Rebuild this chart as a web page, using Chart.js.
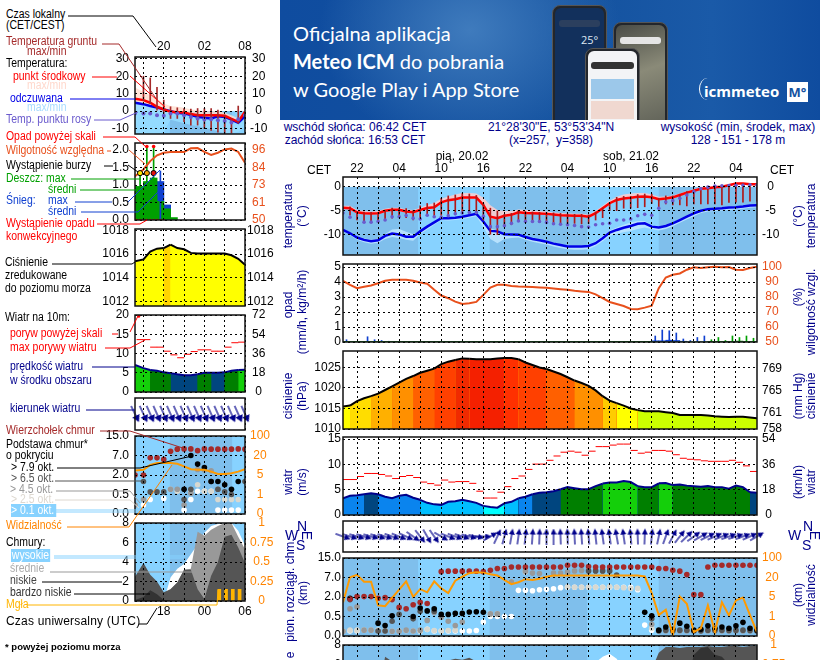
<!DOCTYPE html>
<html lang="pl">
<head>
<meta charset="utf-8">
<title>Meteorogram ICM</title>
<script src="https://cdn.jsdelivr.net/npm/chart.js@4"></script>
<style>
    html, body { margin: 0; padding: 0; width: 820px; height: 660px; overflow: hidden; background: #fff; }
    #page { position: relative; width: 820px; height: 660px; overflow: hidden; font-family: "Liberation Sans", Arial, sans-serif; font-size: 12px; }
    #page canvas { position: absolute; }
    .txt { position: absolute; white-space: pre; line-height: 13px; }
    .vert { position: absolute; white-space: pre; line-height: 13px; color: #00008b; transform: translate(-50%, -50%) rotate(-90deg); }
    .band { position: absolute; }
    #banner { position: absolute; left: 280px; top: 0; width: 540px; height: 120px; overflow: hidden;
        background: radial-gradient(ellipse 150px 120px at 190px 30px, #3f7bbd 0%, rgba(63,123,189,0) 100%), linear-gradient(90deg, #0f4c9f 0%, #14529f 55%, #1a5aa8 80%, #0f4c9f 100%); color: #fff; font-family: Lato, "Open Sans", sans-serif; font-size: 20px; }
    #banner .line { position: absolute; left: 13px; white-space: pre; }
    .phone { position: absolute; border-radius: 8px; background: #23262b; border: 1px solid #555; box-sizing: border-box; }
    .screen { position: absolute; left: 2px; right: 2px; top: 2px; bottom: 0; border-radius: 6px; }
    #leaders { position: absolute; left: 0; top: 0; }
</style>
</head>
<body>
<div id="page">
    <div id="banner">
        <div class="line" style="top:21px">Oficjalna aplikacja</div>
        <div class="line" style="top:49px"><b>Meteo ICM</b> do pobrania</div>
        <div class="line" style="top:77px">w Google Play i App Store</div>
        <div class="phone" style="left:272px;top:5px;width:55px;height:125px"><div class="screen" style="background:#12305c"><div style="position:absolute;left:26px;top:24px;color:#dfe8f5;font:11px 'Open Sans',sans-serif">25°</div><div style="position:absolute;left:4px;right:4px;top:12px;height:7px;border-radius:3px;background:#2b3f5e"></div></div></div>
        <div class="phone" style="left:333px;top:22px;width:55px;height:110px"><div class="screen" style="background:linear-gradient(160deg,#4a4c46 0%,#8a8a78 45%,#5c5e55 100%)"><div style="position:absolute;left:4px;right:4px;top:12px;height:7px;border-radius:3px;background:#e5e5e5"></div></div></div>
        <div class="phone" style="left:305px;top:48px;width:55px;height:90px"><div class="screen" style="background:#f3f4f6"><div style="position:absolute;left:3px;right:3px;top:11px;height:7px;border-radius:3px;background:#333"></div><div style="position:absolute;left:3px;right:3px;top:28px;height:20px;background:#9cc8ea"></div><div style="position:absolute;left:3px;right:3px;top:50px;height:18px;background:#f0d8d0"></div></div></div>
        <div style="position:absolute;left:419px;top:78px;width:16px;height:22px;border-left:1.5px solid #fff;border-radius:50%"></div>
        <div class="line" style="left:424px;top:81px;font:bold 15px 'Open Sans',sans-serif">icmmeteo</div>
        <div class="line" style="left:507px;top:82px;width:21px;height:20px;background:#fff;color:#14529f;font:bold 13px 'Open Sans',sans-serif;text-align:center;line-height:20px">M°</div>
    </div>
</div>

<script>
// ── Time axes ──
const hoursR = [0,1,2,3,4,5,6,7,8,9,10,11,12,13,14,15,16,17,18,19,20,21,22,23,24,25,26,27,28,29,30,31,32,33,34,35,36,37,38,39,40,41,42,43,44,45,46,47,48,49,50,51,52,53,54,55,56,57,58,59];
const hoursL = [-0.25,1,2,3,4,5,6,7,8,9,10,11,12,13,14,15,16];
const tickHoursR = [2,5,8,11,14,17,20,23,26,29,32,35,38,41,44,47,50,53,56];
const tickLabelsR = ['22','','04','','10','','16','','22','','04','','10','','16','','22','','04'];
const tickHoursL = [1,4,7,10,13,16];
const tickLabelsLocal = ['','20','','02','','08'];
const tickLabelsUtc = ['','18','','00','','06'];
const nightR = [[0,10.7],[20.9,34.8],[45,58.9]];
const nightL = [[4.9,14.1]];

// ── Temperature, long forecast ──
const tempR = [-4.4,-4.5,-5.35,-5.55,-5.6,-5.55,-5.05,-4.85,-4.85,-5.2,-5.35,-4.85,-4.45,-4.3,-3.25,-2.8,-2.6,-2.25,-2.25,-2.25,-3.8,-6.3,-6.6,-6.1,-5.9,-5.35,-5.5,-5.55,-5.6,-5.7,-5.85,-6,-6.05,-6.1,-6.1,-6.3,-5.55,-4.5,-3.45,-2.75,-2.45,-2.3,-2.1,-2.05,-2.2,-2.6,-2.45,-2.2,-1.7,-1.2,-0.8,-0.4,-0.3,-0.05,0.05,0.35,0.7,0.7,0.55,0.55];
const tempMaxR = [-4,-4,-4.9,-5.1,-5.2,-5.1,-4.6,-4.4,-4.4,-4.8,-4.9,-4.4,-3.8,-3.4,-2.5,-2,-1.6,-1.3,-1.3,-1.4,-2.3,-3.9,-4.9,-5.1,-5.1,-4.8,-4.9,-5,-5.1,-5.2,-5.4,-5.5,-5.6,-5.7,-5.7,-5.9,-5.1,-4,-2.9,-2.1,-1.6,-1.4,-1.3,-1.3,-1.6,-2.1,-2,-1.8,-1.4,-0.9,-0.5,-0.1,0,0.2,0.3,0.6,0.9,0.9,0.8,0.8];
const tempMinR = [-4.7,-4.8,-5.6,-5.8,-5.9,-5.8,-5.3,-5.1,-5.1,-5.5,-5.6,-5.1,-4.7,-4.5,-3.5,-3.1,-2.8,-2.5,-2.5,-2.5,-4.1,-6.6,-6.9,-6.4,-6.2,-5.6,-5.7,-5.8,-5.8,-5.9,-6.1,-6.2,-6.3,-6.3,-6.3,-6.5,-5.8,-4.7,-3.7,-3,-2.7,-2.5,-2.3,-2.3,-2.4,-2.8,-2.7,-2.4,-1.9,-1.4,-1,-0.6,-0.5,-0.2,-0.1,0.2,0.5,0.5,0.4,0.4];
const feelR = [-9.1,-9.8,-10.7,-11.2,-11.5,-11.3,-10.35,-9.85,-10.05,-10.55,-10.55,-9.4,-8.4,-7.5,-6.6,-6.6,-6.5,-6.3,-6,-5.7,-7.3,-9.3,-9.4,-10,-10.05,-10.1,-10.6,-11,-11.3,-11.6,-12,-12.3,-12.6,-12.6,-12.6,-12.5,-11.9,-10.85,-9.65,-9.1,-8.65,-8.25,-7.8,-7.7,-8.4,-8.6,-8.25,-7.7,-7,-6.3,-5.6,-5.05,-4.7,-4.6,-4.5,-4.35,-4.3,-4.15,-3.95,-3.9];
const feelMaxR = [-9,-9.6,-10.4,-10.9,-11.2,-11,-10,-9,-8.9,-9.5,-10,-9.2,-8.2,-7.3,-6.5,-6.4,-6.3,-6.1,-5.8,-5.5,-6.8,-8.8,-9.2,-9.8,-9.9,-10,-10.4,-10.8,-11.1,-11.4,-11.8,-12.1,-12.4,-12.4,-12.4,-12.3,-11.5,-10.4,-9.2,-8.6,-8,-7.5,-7.2,-7.2,-8.1,-8.3,-8,-7.5,-6.8,-6.1,-5.4,-4.9,-4.5,-4.4,-4.3,-4.2,-4.1,-4,-3.8,-3.7];
const feelMinR = [-9.4,-10.2,-11.2,-11.7,-12,-11.8,-11,-10.6,-10.8,-11.2,-11.4,-10,-9,-8,-7,-7.1,-7,-6.8,-6.5,-6.2,-8.5,-11,-11.9,-11,-10.8,-10.7,-11.2,-11.6,-11.9,-12.2,-12.6,-12.9,-13.2,-13.3,-13.3,-13.2,-12.5,-11.5,-10.4,-9.9,-9.6,-9.3,-8.9,-8.6,-8.9,-9.2,-8.9,-8.3,-7.6,-6.9,-6.2,-5.5,-5.2,-5.1,-5,-4.9,-4.8,-4.6,-4.4,-4.3];
const dewR = [-5.5,-6.4,null,-7.45,-7.45,-7.3,-7,-6.3,-6.3,-6.05,-6.6,-6.8,-6,-6.3,-6.4,-6.1,-5.7,-5.5,-5.4,-5.4,-6.2,-8.4,-8.4,-8.2,-7.7,-7.2,-7.3,-7.3,-7.3,-7.5,-7.8,-7.9,-8,-8.15,-8.4,-8.5,-8,-7.8,-7.7,-7,-7,-6.8,-6.1,-5.8,-6,-4.5,-3.2,-2.9,-2.4,-1.7,-1,-0.4,-0.05,0.2,0.25,0.3,0.35,0.35,0.45,0.4];
const groundMaxR = [null,-4.2,-5.2,-5.3,-5.4,-5.4,-5,-4.5,-4.5,-4.6,-5,-4,-3.5,-3.4,-2.4,-1.9,-1.7,-1.4,-1.5,-1.8,-3.5,-4.5,-5.1,-5.8,-5.6,-5,-5.2,-5.3,-5.4,-5.4,-5.5,-5.6,-5.7,-5.8,-5.8,-5.9,-5.3,-4.5,-3.5,-2.2,-2,-2,-1.6,-1.5,-1.5,-2.4,-1.9,-1.9,-1.6,-1,-0.6,-0.3,-0.2,0,0.2,0.3,0.5,0.7,0.5,0.3];
const groundMinR = [null,-6,-7,-7.2,-7.4,-7.2,-7,-6.6,-6.4,-6.5,-7,-6.5,-6,-6.3,-6,-6,-5.8,-5.5,-5.5,-5.5,-7,-10,-10.1,-8,-8,-7.3,-7.3,-7.4,-7.5,-7.5,-7.6,-7.6,-7.7,-7.7,-7.8,-7.8,-7,-6.5,-5,-5,-4.5,-4.5,-4.4,-4.2,-3.5,-4.5,-3.6,-3.8,-3.8,-4,-3.6,-3.6,-3.6,-3.6,-3.8,-3.3,-3.2,-3.2,-3,-3];

// ── Precipitation and humidity, long forecast ──
const humidityR = [90.8,88.1,85.9,86.8,87.7,89.2,90.8,91.5,91.5,91.5,90.8,89.7,88.8,84.8,81,79.2,76.9,75.3,75.8,76.7,81.4,86.3,88.1,88.1,87.4,87,86.8,86.6,86.3,86.1,85.7,85.2,84.8,84.1,83.7,83.4,81.8,79.2,76.7,75.3,74,72,71.8,72.9,74.2,85.9,93,94.8,95.7,98.2,99.8,99.3,99.8,100.2,99.8,100,98.2,98,99.3,100.2];
const snowMaxR = [0.15,0,0.03,0.35,0.15,0.1,0.05,0,0,0,0,0,0,0,0,0,0,0,0,0,0,0,0,0,0,0,0,0,0,0,0,0,0,0,0,0,0,0,0,0,0,0,0,0,0.4,0.8,0.75,0.6,0.2,0.1,0.3,0.4,0,0,0,0,0,0,0];
const rainMaxR = [0,0,0,0,0,0,0,0,0,0,0,0,0,0,0,0,0,0,0,0,0,0,0,0,0,0,0,0,0,0,0,0,0,0,0,0,0,0,0,0,0,0,0,0,0,0,0,0,0,0,0,0,0.15,0.3,0.1,0.4,0.3,0.4,0.25];
const snowMeanR = [0,0,0,0,0,0,0,0,0,0,0,0,0,0,0,0,0,0,0,0,0,0,0,0,0,0,0,0,0,0,0,0,0,0,0,0,0,0,0,0,0,0,0,0,0.08,0.08,0.12,0.1,0.05,0,0,0,0,0,0,0,0,0,0];
const rainMeanR = [0.02,0.02,0.02,0.02,0.02,0.02,0.02,0.02,0.02,0.02,0.02,0.02,0.02,0.02,0.02,0.02,0.02,0.02,0.02,0.02,0.02,0.02,0.02,0.02,0.02,0.02,0.02,0.02,0.02,0.02,0.02,0.02,0.02,0.02,0.02,0.02,0.02,0.02,0.02,0.02,0.02,0.02,0.02,0.02,0,0,0,0,0,0,0,0,0.01,0.02,0.02,0.04,0.06,0.04,0.02];

// ── Pressure, long forecast ──
const pressureR = [1015.5,1015.7,1016.8,1017.5,1018,1018.6,1019.5,1020.4,1021.3,1022.2,1022.9,1023.7,1024.2,1024.7,1025.8,1026.4,1026.8,1027.2,1027.1,1027,1027,1027,1027.2,1027.3,1027.3,1027,1026.2,1025.6,1025,1024.6,1024,1023.4,1022.6,1021.8,1021.2,1020.5,1019.4,1018,1016.9,1016.3,1015.7,1015,1014.6,1014.3,1014.3,1014.3,1014.1,1013.9,1013.4,1013.4,1013.4,1013.4,1013.3,1013.1,1013,1012.9,1013,1013,1012.8,1012.6];
const pressureColorsR = ['#ffff00','#ffdd00','#ffdd00','#ffdd00','#ffb000','#ffb000','#ffb000','#ff9000','#ff9000','#ff9000','#ff6000','#ff6000','#ff6000','#ff4000','#ff4000','#ff4000','#f02a00','#f02a00','#f42000','#f42000','#f42000','#f42000','#f42000','#ff3000','#ff3000','#ff4000','#ff4000','#ff4000','#ff4000','#ff6000','#ff6000','#ff6000','#ff6000','#ff9000','#ff9000','#ff9000','#ff9000','#ffcc00','#ffcc00','#ffff00','#ffff00','#ffff00','#ccff00','#ccff00','#ccff00','#ccff00','#ccff00','#ccff00','#ccff00','#ccff00','#ccff00','#ccff00','#ccff00','#ccff00','#ccff00','#ccff00','#ccff00','#ccff00','#ccff00','#ccff00'];

// ── Wind, long forecast ──
const windR = [3.3,3.8,3.9,4.1,4.3,4.1,3.6,3.3,3.8,4,3.4,3,2.4,2.1,2,2.6,2.7,3,2.7,2.4,1.8,1.6,1.45,2.3,2.6,3.3,3.6,4.1,4.4,4.5,4.7,5.1,5.5,5.3,5.1,5.1,5.7,6.2,6.4,6.4,6.7,6.5,5.7,5.5,5.5,6.25,6.3,5.9,6,5.8,5.7,5.6,5.7,5.5,5.5,5.2,5.8,5.5,4.5,4.4];
const windColorsR = ['#0a84ee','#0a84ee','#0a84ee','#00457f','#00457f','#0a84ee','#0a84ee','#0a84ee','#0a84ee','#0a84ee','#0a84ee','#00bfff','#00bfff','#00bfff','#00bfff','#00bfff','#00bfff','#00bfff','#00bfff','#00bfff','#00ffff','#00ffff','#00ffff','#00bfff','#00bfff','#0a84ee','#0a84ee','#00457f','#00457f','#00457f','#00457f','#007f00','#007f00','#007f00','#007f00','#007f00','#007f00','#14cf0a','#14cf0a','#14cf0a','#14cf0a','#14cf0a','#007f00','#007f00','#007f00','#14cf0a','#14cf0a','#007f00','#007f00','#007f00','#007f00','#007f00','#007f00','#007f00','#007f00','#007f00','#007f00','#007f00','#00457f','#00457f'];
const gustHoursR = [0.5,1.5,2.5,3.5,4.5,5.5,6.5,7.5,8.5,9.5,10.5,11.5,12.5,13.5,14.5,15.5,16.5,17.5,18.5,19.5,20.5,21.5,22.5,23.5,24.5,25.5,26.5,27.5,28.5,29.5,30.5,31.5,32.5,33.5,34.5,35.5,36.5,37.5,38.5,39.5,40.5,41.5,42.5,43.5,44.5,45.5,46.5,47.5,48.5,49.5,50.5,51.5,52.5,53.5,54.5,55.5,56.5,57.5,58.5];
const gustR = [7,7,7.6,8.2,8.2,8,7.7,7.2,7.6,7.8,7.4,6.5,6.2,5.9,6.9,6.5,6.6,6.6,6.25,4.7,3.35,3.35,4.5,5.6,7.2,7.7,9,10.05,10.05,10.8,11.65,12.4,12.6,12.4,11.8,12.6,13.5,13.5,13.8,14,14,12.75,12.2,12.4,12.75,12.75,12.6,11.9,11.2,11,10.9,10.7,10.6,10.6,10.6,10.8,10.4,9.7,8.6];
const windFromR = [290,288,287,287,286,287,288,290,292,295,305,322,330,325,300,292,290,288,285,282,270,240,205,195,190,188,186,184,182,180,180,178,178,177,176,175,174,172,172,170,172,175,178,182,186,192,200,208,218,226,234,240,244,246,248,250,252,250,246,240];

// ── Cloud base and tops, visibility, long forecast (km) ──
const heightScale = [0, 0.5, 2, 7, 15];
const visibilityScale = [0, 1, 5, 20, 100];
const heightTickLabels = ['0.0', '0.5', '2.0', '7.0', '15.0'];
const visibilityTickLabels = ['0', '1', '5', '20', '100'];
const cloudTopsR = [null,1.85,2.1,2.1,2.1,1.9,1.95,1.8,1.2,1.1,1.4,1.6,1.5,null,9.4,9.6,9.6,9.6,9.6,9.6,9.4,10,10.7,10.7,11.3,11.3,11.3,11.3,11.3,11.3,11.3,11.3,12,12,12,11.5,11.3,11.3,11.3,11.3,11.3,11.3,11.3,11.3,11.3,10.7,10.7,10,9.6,8.2,2.6,2.6,11.3,12,12,12,12,12,12,12];
const base79R = [null,1.9,null,null,null,0.33,0.27,0.55,null,null,0.5,1.15,0.93,1.1,0.66,0.66,0.74,0.74,0.85,0.87,0.82,null,null,null,null,null,null,null,null,null,null,null,null,null,null,null,null,null,null,null,null,null,null,0.82,0.55,0.15,0.23,0.17,0.33,0.25,0.15,0.17,0.26,0.2,0.23,0.2,0.26,0.35,0.2,0.15];
const base65R = [null,1.8,null,null,null,0.13,0.13,0.38,0.66,null,0.44,0.9,null,0.9,null,null,null,null,null,null,null,null,null,null,null,null,null,null,null,null,null,null,null,null,null,9.7,9.7,9.7,9.7,8,null,null,null,null,0.44,0.13,0.15,0.13,0.15,0.15,0.13,0.13,0.15,0.15,0.15,0.14,0.15,0.15,0.14,0.13];
const base45R = [0.12,1.1,1.25,0.15,0.15,0.13,0.13,0.12,0.12,0.15,0.13,0.15,0.4,0.8,0.48,0.38,0.27,0.36,null,null,null,0.7,0.7,null,5.9,null,9.5,8.8,8.6,null,8.8,8.8,9.2,9.7,9.9,9.7,9.7,9.7,9.7,null,null,null,null,null,0.3,0.13,0.13,0.13,0.13,0.13,0.13,0.13,0.13,0.13,0.13,0.13,0.13,0.13,0.13,0.13];
const base25R = [0.12,0.15,0.15,0.15,0.15,0.15,0.14,0.12,0.13,0.14,0.13,0.12,0.17,0.14,0.13,0.14,0.15,null,null,null,null,0.7,0.7,null,5.9,null,9.3,null,null,null,null,null,4.6,4.5,4.5,4.5,4.5,4.5,4.6,4.5,4.4,4.2,4.2,null,0.2,null,null,null,null,null,null,null,null,null,null,null,null,null,null,null];
const base01R = [null,0.13,0.13,null,null,null,null,null,null,null,null,0.14,0.17,0.13,0.13,0.13,0.13,0.13,0.13,0.14,0.36,0.5,0.5,0.5,0.5,3.7,3.7,3.6,3.85,4,4.1,4.4,4.5,4.5,4.5,4.5,4.5,4.5,4.5,4.5,4.5,4.5,3.85,0.28,0.15,null,null,null,null,null,null,null,null,null,null,null,null,null,null,null];
const visibilityR = [3.9,20.8,30.8,16.7,16.7,3.3,3.1,4.8,10.6,17,5,11,8.6,17,11.6,8,17.5,24,37.6,41.7,40,33,28,18.2,14.9,16.4,18.7,18,19,22.7,28,28,28,28,28,28,28,28,28,28,28,28,28,24,8,1.3,2.4,0.05,5.3,3.6,0.2,0.4,3.3,0.2,3.9,1.2,4.3,4.9,1.3,0.2];

// ── Cloud cover, long forecast ──
const cloudHighR = [0,0,0,0,0,0,0,0,0,0,0,0,0,0,0,0,0,0,0,0,0,0,0,0,0,0,0,0,0,0,0,2,3,3,4,5,6.2,6.8,7.1,6.6,5.5,4,3,2,2,3,4,5,6,6,6,6,6,6,6,6,6,6,6,6];
const cloudMidR = [0,0,0,0,0,0,0,0,0,0,0,0,0,0,0,0,0,0,0,0,0,0,0,0,0,0,0,0,0,0,0,0,0,0,0,0,0,0,0,0,0,0,0,0,3,5,6,6,6,6,6,6,6,6,6,6,6,6,6,6];
const cloudLowR = [0,0,1,2,3,3,6.8,6.3,4,3,2,2,3,4,5,6.4,6.6,6.5,6.7,6.3,5,4,3,2,1,0,0,0,0,0,0,0,0,0,0,0,0,0,0,0,0,1,2,3,5.5,7.2,7.8,7.8,7.7,7.8,7.8,7.8,7.9,7.8,7.8,7.9,7.9,7.8,7.9,7.9];
const cloudVeryLowR = [0,0,0,0,0,0,0,0,0,0,0,0,0,0,0,0,0,0,0,0,0,0,0,0,0,0,0,0,0,0,0,0,0,0,0,0,0,0,0,0,0,0,0,0,0,0,0,2,3,4,7,7.7,7.8,7,6.8,6,5,5,5,5];
const fogHoursR = [49];
const fogR = [0.15];

// ── Short forecast (left column) ──
const tempL = [7.1,6.3,4.8,2.5,1,-0.4,-0.6,-0.8,-1.7,-2.3,-2.3,-2.3,-2.3,-2.7,-4.4,-6.1,-0.4];
const tempMaxL = [13.6,11,9.2,6.9,4.4,2.9,2.5,1.9,1,0.6,0,0,0.2,-0.9,-2.3,-4.2,0.6];
const tempMinL = [5.5,4.5,3,1.2,-0.2,-1.2,-1.4,-1.6,-2.4,-2.9,-3,-3,-3,-3.4,-5,-6.8,-1.2];
const feelL = [4.8,4,2.9,2.1,1,0,-1,-1.3,-2.3,-3.3,-3.8,-4.2,-2.9,-3.3,-4.8,-6.7,-2.9];
const feelMaxL = [5.5,4.6,3.5,2.6,1.5,0.5,-0.5,-0.8,-1.8,-2.8,-3.3,-3.7,-2.5,-2.9,-4.4,-6.2,-2.5];
const feelMinL = [-13,-13,-13,-13,-12,-5,-6,-7,-8,-8.5,-9.5,-10.5,-11.5,-12.5,-12.5,-12,-9];
const dewL = [-1.3,-1.3,-1.3,-2.3,-2.7,-1.3,-1.3,-2.3,-3.3,-4.2,-4.8,-4.6,-5.2,-5.6,-6.5,-4.6,-2.3];
const groundMaxL = [null,20,19,13.7,6.3,2.5,1.9,1.5,1.2,1.5,1.5,1.5,0.6,-2.3,-4.2,2.9,null];
const groundMinL = [null,6,4.4,0.6,-1.3,-4.2,-4.2,-6.1,-8,-8,-10,-11,-12,-13,-12.5,-7,null];

const humidityL = [78.8,83.2,88.7,92.5,94.2,94.7,94.7,94.7,97.1,97.3,94.7,92.7,94.2,96.4,96.9,94.7,87.6];
const precipHoursL = [-0.5,0.5,1.5,2.5,3.5,4.5,5.5];
const rainMeanL = [0.96,0.96,1.1,1.2,0.53,0.32,0.07];
const snowMeanL = [0,0,0,0,1.1,0.43,0];
const spikeHoursL = [0.5,1.5,2.5,3.5];
const rainMaxL = [1.35,2.1,2.1,0];
const snowMaxL = [0,0,0,1.4];
const overScaleHoursL = [1.5,2.5];
const overScaleL = [2.1,2.1];
const stormHoursL = [0.5,1.5,2.5];
const stormL = [1.34,1.34,1.34];
const stormColorsL = ['#ffe600','#f5a000','#e01010'];
const convectiveHoursL = [0,0.5,1,1.5,2,2.5,3,3.5,4];
const convectiveL = [0.01,0.01,0.01,0.01,0.01,0.01,0.01,0.01,0.01];

const pressureL = [1015.4,1015.55,1016.2,1016.45,1016.5,1016.8,1016.5,1016.4,1016.1,1016.05,1016.05,1016.05,1016.05,1016.05,1015.9,1015.6,1015.1];
const pressureColorsL = ['#ffff00','#ffff00','#ffff00','#ffff00','#ffd400','#ffff00','#ffff00','#ffff00','#ffff00','#ffff00','#ffff00','#ffff00','#ffff00','#ffff00','#ffff00','#ffff00','#ffff00'];

const windL = [7,6.2,5.7,5.5,5.1,4.9,4.6,4.35,4.35,4.6,5,5,5,5.1,5.5,5.7,5.8];
const windColorsL = ['#14cf0a','#14cf0a','#007f00','#007f00','#007f00','#00457f','#00457f','#00457f','#00457f','#007f00','#007f00','#00457f','#00457f','#007f00','#007f00','#14cf0a','#14cf0a'];
const gustHoursL = [0.5,1.5,2.5,3.5,4.5,5.5,6.5,7.5,8.5,9.5,10.5,11.5,12.5,13.5,14.5,15.5];
const gustL = [13.6,13.6,11.65,11.65,10.6,9.65,8.9,9.8,10.5,10.95,10.95,10.6,10.6,11.65,12.8,12.95];
const overGustHoursL = [0.3];
const overGustL = [19.7];
const windFromL = [334,335,336,336,336,336,336,336,336,336,336,336,336,336,336,336,336];

const cloudTopsL = [2,2,6.4,6.4,6,8.7,9.6,9.7,9.7,9,9.7,9.6,9.6,9.6,9.6,9.7,9.6];
const base79L = [null,null,null,null,null,null,null,0.9,7,4.8,3.9,1.5,1.5,1.25,0.9,1.5,null];
const base65L = [null,1.5,0.7,0.7,0.7,null,null,0.37,0.9,null,null,1.5,0.9,0.7,0.5,null,1.5];
const base45L = [0.23,0.37,null,null,null,0.9,0.9,0.23,0.6,3.4,3.3,3.1,0.9,null,null,null,null];
const base25L = [null,null,null,null,null,0.9,0.75,null,0.75,1.25,0.75,0.75,0.37,0.37,0.37,0.37,null];
const base01L = [null,0.23,0.37,null,0.4,null,null,0.1,0.37,0.75,0.75,0.75,0.1,0.1,0.1,0.1,null];
const visibilityL = [8.4,9,12.8,14.2,14.2,14.2,13.6,11.6,9.5,9,9,7.6,5.8,5.8,6.3,7.6,9.5];

const cloudHighL = [0,0,0,0,0,2.4,3.3,3.8,4.8,5.8,7,7.7,7.9,8,8,7.2,5.7];
const cloudMidL = [0,0,0,0,0.8,1.2,1.9,3.2,3.3,7.1,6.7,7.3,7.7,8,8,6.6,5.3];
const cloudLowL = [2.5,3.9,2.7,2,0.9,1.2,1.9,3.2,3.2,1.2,0.2,2.6,4,6.6,6.8,5.5,3.9];
const cloudVeryLowL = [0.1,0.4,1.1,0.7,0.1,0,0,0,0,0,0,0,0,0,0,0,0];
const fogHoursL = [12.2,13.2,14.2,15.2];
const fogL = [0.15,0.15,0.15,0.15];

// ── Shared look ──
const NAVY = '#00008b';
const ORANGE = '#ff8400';
const HUMIDITY = '#e8501c';
const SKY = '#87d2ff';
const SKY_NIGHT = '#7fbfec';
const FONT = { family: '"Liberation Sans", Arial, sans-serif', size: 12 };
const PAD = 16;

const COLUMNS = {
    right: { x0: 343, x1: 757, axisL: 60, axisR: 54, xMin: 0, xMax: 59, tickHours: tickHoursR, night: nightR },
    left: { x0: 135, x1: 245, axisL: 45, axisR: 35, xMin: -0.25, xMax: 16, tickHours: tickHoursL, night: nightL },
};

const page = document.getElementById('page');

// Background sky and the frame around each panel
Chart.register({
    id: 'panelFrame',
    beforeDatasetsDraw(chart, args, opts) {
        if (opts.skyTop === undefined) return;
        const { ctx, chartArea: a, scales } = chart;
        const top = opts.skyTop === null ? a.top : scales.y.getPixelForValue(opts.skyTop);
        ctx.save();
        ctx.fillStyle = SKY;
        ctx.fillRect(a.left, top, a.right - a.left, a.bottom - top);
        ctx.fillStyle = SKY_NIGHT;
        opts.night.forEach(([from, to]) => {
            const x0 = scales.x.getPixelForValue(from);
            const x1 = scales.x.getPixelForValue(to);
            ctx.fillRect(x0, top, x1 - x0, a.bottom - top);
        });
        ctx.restore();
    },
    afterDraw(chart) {
        const { ctx, chartArea: a } = chart;
        ctx.save();
        ctx.strokeStyle = '#111';
        ctx.lineWidth = 1.5;
        ctx.strokeRect(a.left, a.top, a.right - a.left, a.bottom - a.top);
        ctx.restore();
    },
});

function fixedTicks(values) {
    return (scale) => { scale.ticks = values.map((value) => ({ value })); };
}

function pts(xs, ys) {
    return xs.map((x, i) => ({ x, y: ys[i] }));
}

// Piecewise position on the non-linear cloud axis
function axisPos(value, stops) {
    if (value === null) return null;
    for (let i = 1; i < stops.length; i++) {
        if (value <= stops[i]) return i - 1 + (value - stops[i - 1]) / (stops[i] - stops[i - 1]);
    }
    return stops.length - 1;
}

function addPanel(col, top, bottom, cfg) {
    const c = COLUMNS[col];
    const xPos = cfg.xLabels ? cfg.xPos : null;
    const xSpace = cfg.xLabels ? cfg.xSpace : 0;
    const padTop = xPos === 'top' ? 0 : PAD;
    const padBottom = xPos === 'bottom' ? 0 : PAD;

    const canvas = document.createElement('canvas');
    const above = xPos === 'top' ? xSpace : padTop;
    canvas.width = c.axisL + (c.x1 - c.x0) + c.axisR;
    canvas.height = above + (bottom - top) + (xPos === 'bottom' ? xSpace : padBottom);
    canvas.style.left = (c.x0 - c.axisL) + 'px';
    canvas.style.top = (top - above) + 'px';
    page.appendChild(canvas);

    const yTicks = cfg.yTicks || [];
    const rTicks = cfg.rTicks || [];

    new Chart(canvas, {
        type: 'line',
        data: { datasets: cfg.datasets },
        options: {
            responsive: false,
            animation: false,
            events: [],
            layout: { autoPadding: false, padding: { top: padTop, bottom: padBottom, left: 0, right: 0 } },
            elements: { point: { radius: 0 }, line: { tension: 0 } },
            plugins: {
                legend: { display: false },
                tooltip: { enabled: false },
                panelFrame: { skyTop: cfg.skyTop, night: c.night },
            },
            scales: {
                x: {
                    type: 'linear',
                    position: xPos || 'bottom',
                    min: c.xMin,
                    max: c.xMax,
                    offset: false,
                    grid: { color: '#000', lineWidth: 1, z: 1, drawTicks: false, offset: false },
                    border: { display: false, dash: [2, 3] },
                    afterBuildTicks: fixedTicks(c.tickHours),
                    afterFit: (s) => { s.height = xSpace; },
                    ticks: {
                        display: !!cfg.xLabels,
                        autoSkip: false,
                        maxRotation: 0,
                        padding: cfg.xPadding || 1,
                        color: '#000',
                        font: FONT,
                        callback: (v, i) => (cfg.xLabels ? cfg.xLabels[i] : ''),
                    },
                },
                y: {
                    min: cfg.yMin,
                    max: cfg.yMax,
                    grid: { color: '#000', lineWidth: 1, z: 1, drawTicks: false },
                    border: { display: false, dash: [2, 3] },
                    afterBuildTicks: fixedTicks(yTicks),
                    afterFit: (s) => { s.width = c.axisL; },
                    ticks: {
                        autoSkip: false,
                        padding: cfg.yPadding === undefined ? 2 : cfg.yPadding,
                        color: '#000',
                        font: FONT,
                        callback: (v, i) => (cfg.yLabels ? cfg.yLabels[i] : String(v)),
                    },
                },
                y1: {
                    position: 'right',
                    min: cfg.rMin === undefined ? cfg.yMin : cfg.rMin,
                    max: cfg.rMax === undefined ? cfg.yMax : cfg.rMax,
                    grid: { display: false, drawTicks: false },
                    border: { display: false },
                    afterBuildTicks: fixedTicks(rTicks),
                    afterFit: (s) => { s.width = c.axisR; },
                    ticks: {
                        autoSkip: false,
                        padding: cfg.rPadding === undefined ? 5 : cfg.rPadding,
                        crossAlign: 'center',
                        color: cfg.rColor || '#000',
                        font: FONT,
                        callback: (v, i) => (cfg.rLabels ? cfg.rLabels[i] : String(v)),
                    },
                },
            },
        },
    });
}

// ── Dataset helpers ──
const lineSet = (x, y, color, width, extra) => ({ data: pts(x, y), borderColor: color, borderWidth: width, pointRadius: 0, fill: false, ...extra });
const dotSet = (x, y, color, r) => ({ data: pts(x, y), showLine: false, pointRadius: r, pointBackgroundColor: color, pointBorderWidth: 0, borderColor: color });
const barSet = (x, y, color, thickness) => ({ type: 'bar', data: pts(x, y), backgroundColor: color, barThickness: thickness, grouped: false, borderWidth: 0 });
const rangeSet = (x, lo, hi, color) => ({ type: 'bar', data: x.map((h, i) => ({ x: h, y: lo[i] === null ? null : [lo[i], hi[i]] })), backgroundColor: color, barThickness: 1, grouped: false });
const bandSet = (x, y, color) => ({ data: pts(x, y), borderWidth: 0, pointRadius: 0, fill: '+1', backgroundColor: color });
const edgeSet = (x, y) => ({ data: pts(x, y), borderWidth: 0, pointRadius: 0, fill: false });
const areaSet = (x, y, colors, edge, width) => ({ data: pts(x, y), borderColor: edge, borderWidth: width, pointRadius: 0, fill: 'start', backgroundColor: colors[0], segment: { backgroundColor: (ctx) => colors[ctx.p0DataIndex] } });
const cloudSet = (x, y, color) => ({ data: pts(x, y), borderWidth: 0, pointRadius: 0, fill: 'start', backgroundColor: color });
const gustSet = (x, y) => ({ data: pts(x, y), showLine: false, pointStyle: 'line', pointRadius: 3.5, pointBorderWidth: 1, pointBorderColor: '#f00', borderColor: '#f00' });

function arrowImage(w, h, head) {
    const img = document.createElement('canvas');
    img.width = w;
    img.height = h;
    const g = img.getContext('2d');
    g.strokeStyle = NAVY;
    g.fillStyle = NAVY;
    g.lineWidth = 1.2;
    g.beginPath();
    g.moveTo(w / 2, h);
    g.lineTo(w / 2, head - 1);
    g.stroke();
    g.beginPath();
    g.moveTo(w / 2, 0);
    g.lineTo(w, head);
    g.lineTo(0, head);
    g.closePath();
    g.fill();
    return img;
}
const arrowSet = (x, from, img) => ({
    data: x.map((h) => ({ x: h, y: 0.5 })),
    showLine: false,
    clip: false,
    pointStyle: img,
    pointRadius: 3,
    pointRotation: from.map((d) => (d + 180) % 360),
});
const cloudDots = (x, y, color) => dotSet(x, y.map((v) => axisPos(v, heightScale)), color, 2.8);

function cloudBasePanel(col, top, bottom, x, sets, vis) {
    addPanel(col, top, bottom, {
        yMin: 0, yMax: 4, yTicks: [0, 1, 2, 3, 4], yLabels: heightTickLabels,
        rTicks: [0, 1, 2, 3, 4], rLabels: visibilityTickLabels, rColor: ORANGE,
        skyTop: null,
        yPadding: col === 'left' ? 6 : 2,
        datasets: [
            lineSet(x, vis.map((v) => axisPos(v, visibilityScale)), '#ff9a00', 2),
            ...sets.map(([data, color]) => cloudDots(x, data, color)),
        ],
    });
}

function cloudCoverPanel(col, top, bottom, x, layers, fogX, fog, extra) {
    addPanel(col, top, bottom, {
        yMin: 0, yMax: 8, yTicks: [0, 2, 4, 6, 8],
        rTicks: [0, 2, 4, 6, 8], rLabels: ['0', '0.25', '0.5', '0.75', '1'], rColor: ORANGE,
        skyTop: null,
        ...extra,
        datasets: [
            barSet(fogX, fog.map((v) => v * 8), '#ffb400', 3),
            cloudSet(x, layers[3], '#333'),
            cloudSet(x, layers[2], '#555'),
            cloudSet(x, layers[1], '#999'),
            cloudSet(x, layers[0], '#fff'),
        ],
    });
}

// ── Right column panels ──
addPanel('right', 177, 255, {
    xLabels: tickLabelsR, xPos: 'top', xSpace: 24,
    yMin: -14.4, yMax: 2.1, yTicks: [0, -5, -10], yLabels: ['0', '-5', '-10'],
    rTicks: [0, -5, -10], rLabels: ['0', '-5', '-10'],
    skyTop: 0,
    datasets: [
        dotSet(hoursR, dewR, '#6a5acd', 1.8),
        rangeSet(hoursR, groundMinR, groundMaxR, '#b01818'),
        lineSet(hoursR, tempR, '#f00', 2.5),
        lineSet(hoursR, feelR, '#0000e6', 2.5),
        bandSet(hoursR, tempMaxR, 'rgba(255,205,205,0.85)'),
        edgeSet(hoursR, tempMinR),
        bandSet(hoursR, feelMaxR, 'rgba(190,228,255,0.9)'),
        edgeSet(hoursR, feelMinR),
    ],
});

addPanel('right', 264, 342, {
    yMin: 0, yMax: 5.2, yTicks: [0, 1, 2, 3, 4, 5],
    rMin: 50, rMax: 102, rTicks: [50, 60, 70, 80, 90, 100], rColor: HUMIDITY,
    datasets: [
        lineSet(hoursR, humidityR, HUMIDITY, 2, { yAxisID: 'y1' }),
        barSet(gustHoursR, rainMeanR, '#008000', 7),
        barSet(gustHoursR, snowMeanR, '#1040d0', 7),
        barSet(gustHoursR, rainMaxR, '#00a000', 1),
        barSet(gustHoursR, snowMaxR, '#1040d0', 1),
    ],
});

addPanel('right', 351, 429, {
    yMin: 1010, yMax: 1029, yTicks: [1010, 1015, 1020, 1025],
    rMin: 758, rMax: 772.2, rTicks: [758, 761, 765, 769],
    datasets: [
        areaSet(hoursR, pressureR, pressureColorsR, '#000', 2),
        cloudSet(hoursR, pressureR, '#ff7000'),
    ],
});

addPanel('right', 437, 515, {
    yMin: 0, yMax: 15.4, yTicks: [0, 5, 10, 15],
    rMin: 0, rMax: 55.4, rTicks: [0, 18, 36, 54],
    datasets: [
        gustSet(gustHoursR, gustR),
        areaSet(hoursR, windR, windColorsR, '#00008b', 2),
        cloudSet(hoursR, windR, '#00457f'),
    ],
});

addPanel('right', 521, 552, { yMin: 0, yMax: 1, datasets: [arrowSet(hoursR, windFromR, arrowImage(6, 16, 6))] });

cloudBasePanel('right', 558, 636, hoursR, [
    [cloudTopsR, '#a52a2a'], [base79R, '#000'], [base65R, '#555'], [base45R, '#999'], [base25R, '#d8d8d0'], [base01R, '#fff'],
], visibilityR);

cloudCoverPanel('right', 645, 723, hoursR, [cloudHighR, cloudMidR, cloudLowR, cloudVeryLowR], fogHoursR, fogR);

// ── Left column panels ──
addPanel('left', 57, 134, {
    xLabels: tickLabelsLocal, xPos: 'top', xSpace: 18, xPadding: 3,
    yMin: -13.1, yMax: 31, yTicks: [30, 20, 10, 0, -10], yPadding: 6,
    rTicks: [30, 20, 10, 0, -10], rPadding: 5,
    skyTop: 0,
    datasets: [
        dotSet(hoursL, dewL, '#6a5acd', 2),
        rangeSet(hoursL, groundMinL, groundMaxL, '#a52a2a'),
        lineSet(hoursL, tempL, '#f00', 2.5),
        lineSet(hoursL, feelL, '#0000e6', 2.5),
        bandSet(hoursL, tempMaxL, 'rgba(255,220,205,0.8)'),
        edgeSet(hoursL, tempMinL),
        bandSet(hoursL, feelMaxL, 'rgba(150,220,255,0.9)'),
        edgeSet(hoursL, feelMinL),
    ],
});

addPanel('left', 143, 220, {
    yMin: 0, yMax: 2.2, yTicks: [0, 0.5, 1, 1.5, 2], yLabels: ['0.0', '0.5', '1.0', '1.5', '2.0'], yPadding: 6,
    rMin: 50, rMax: 100.6, rTicks: [50, 61.5, 73, 84.5, 96], rLabels: ['50', '61', '73', '84', '96'], rColor: HUMIDITY, rPadding: 7,
    datasets: [
        dotSet(overScaleHoursL, overScaleL, '#f00', 1.8),
        { ...dotSet(stormHoursL, stormL, '#000', 2.6), pointBackgroundColor: stormColorsL, pointBorderWidth: 1, pointBorderColor: '#000' },
        dotSet(convectiveHoursL, convectiveL, '#f00', 1),
        lineSet(hoursL, humidityL, HUMIDITY, 2, { yAxisID: 'y1' }),
        barSet(spikeHoursL, snowMaxL, '#1040d0', 1),
        barSet(spikeHoursL, rainMaxL, '#00a000', 1),
        barSet(precipHoursL, rainMeanL, '#00a000', 7),
        barSet(precipHoursL, snowMeanL, '#1040d0', 7),
    ],
});

addPanel('left', 229, 306, {
    yMin: 1011.65, yMax: 1018.1, yTicks: [1012, 1014, 1016, 1018], yPadding: 6,
    rTicks: [1012, 1014, 1016, 1018], rPadding: 2,
    datasets: [
        areaSet(hoursL, pressureL, pressureColorsL, '#000', 2),
        cloudSet(hoursL, pressureL, '#ffff00'),
    ],
});

addPanel('left', 315, 392, {
    yMin: 0, yMax: 20, yTicks: [0, 5, 10, 15, 20], yPadding: 6,
    rMin: 0, rMax: 72, rTicks: [0, 18, 36, 54, 72], rPadding: 7,
    datasets: [
        dotSet(overGustHoursL, overGustL, '#f00', 1.5),
        gustSet(gustHoursL, gustL),
        areaSet(hoursL, windL, windColorsL, '#00008b', 2),
        cloudSet(hoursL, windL, '#007f00'),
    ],
});

addPanel('left', 398, 430, { yMin: 0, yMax: 1, datasets: [arrowSet(hoursL, windFromL, arrowImage(8, 18, 7))] });

cloudBasePanel('left', 436, 514, hoursL, [
    [cloudTopsL, '#a52a2a'], [base79L, '#000'], [base65L, '#555'], [base45L, '#999'], [base25L, '#d8d8d0'], [base01L, '#fff'],
], visibilityL);

cloudCoverPanel('left', 523, 601, hoursL, [cloudHighL, cloudMidL, cloudLowL, cloudVeryLowL], fogHoursL, fogL, {
    xLabels: tickLabelsUtc, xPos: 'bottom', xSpace: 18, xPadding: 3, yPadding: 6,
});

// ── Page furniture behind the charts ──
function addBand(x, y, w, h, color) {
    const d = document.createElement('div');
    d.className = 'band';
    d.style.cssText = `left:${x}px;top:${y}px;width:${w}px;height:${h}px;background:${color};z-index:-1`;
    page.appendChild(d);
}
addBand(170, 30, 62, 598, '#edf3fc');
nightR.forEach(([from, to]) => addBand(343 + from * 7.017, 149, (to - from) * 7.017, 511, '#e8e8e8'));

// ── Text ──
function addText(str, x, cy, color, extra) {
    const d = document.createElement('div');
    d.className = 'txt';
    d.textContent = str;
    d.style.cssText = `left:${x}px;top:${cy - 7}px;color:${color};${extra || ''}`;
    page.appendChild(d);
}
function addVert(str, x, cy, color) {
    const d = document.createElement('div');
    d.className = 'vert';
    d.textContent = str;
    d.style.left = x + 'px';
    d.style.top = cy + 'px';
    if (color) d.style.color = color;
    page.appendChild(d);
}

const leftNotes = [
    ['Czas lokalny', 6, 15, '#000'], ['(CET/CEST)', 6, 26, '#000'],
    ['Temperatura gruntu', 6, 42, '#a52a2a'], ['max/min', 27, 52, '#a52a2a'],
    ['Temperatura:', 6, 64, '#000'], ['punkt środkowy', 13, 77, '#f00'], ['max/min', 27, 86, '#ffd8cc'],
    ['odczuwana', 10, 99, '#0000e6'], ['max/min', 27, 108, '#a8dcff'], ['Temp. punktu rosy', 6, 120, '#6a5acd'],
    ['Opad powyżej skali', 6, 137, '#f00'], ['Wilgotność względna', 6, 151, HUMIDITY], ['Wystąpienie burzy', 6, 166, '#000'],
    ['Deszcz: max', 6, 179, '#00a000'], ['średni', 48, 190, '#00a000'], ['Śnieg:', 6, 201, '#1040d0'], ['max', 48, 201, '#1040d0'], ['średni', 48, 212, '#1040d0'],
    ['Wystąpienie opadu', 6, 224, '#f00'], ['konwekcyjnego', 6, 237, '#f00'],
    ['Ciśnienie', 5, 263, '#000'], ['zredukowane', 5, 276, '#000'], ['do poziomu morza', 5, 289, '#000'],
    ['Wiatr na 10m:', 5, 318, '#000'], ['poryw powyżej skali', 10, 334, '#f00'], ['max porywy wiatru', 10, 348, '#f00'],
    ['prędkość wiatru', 10, 367, NAVY], ['w środku obszaru', 10, 381, NAVY], ['kierunek wiatru', 10, 409, NAVY],
    ['Wierzchołek chmur', 6, 431, '#a52a2a'], ['Podstawa chmur*', 6, 445, '#000'], ['o pokryciu', 6, 456, '#000'],
    ['> 7.9 okt.', 11, 468, '#000'], ['> 6.5 okt.', 11, 479, '#555'], ['> 4.5 okt.', 10, 490, '#999'], ['> 2.5 okt.', 11, 500, '#ddd8d0'],
    ['> 0.1 okt.', 11, 511, '#fff', 'background:#87d2ff;padding-right:2px'],
    ['Widzialność', 6, 526, ORANGE], ['Chmury:', 6, 543, '#000'],
    ['wysokie', 11, 556, '#fff', 'background:#87d2ff;padding:0 1px'], ['średnie', 10, 569, '#aaa'], ['niskie', 10, 581, '#444'], ['bardzo niskie', 10, 593, '#333'],
    ['Mgła', 6, 605, '#ffb400'], ['Czas uniwersalny (UTC)', 6, 622, '#000', 'transform:none;letter-spacing:0.2px'],
    ['* powyżej poziomu morza', 5, 647, '#000', 'font-size:9.5px;font-weight:bold;transform:none'],
];
leftNotes.forEach(([s, x, y, c, e]) => addText(s, x, y, c, 'font-size:12px;transform:scaleX(0.87);transform-origin:left center;' + (e || '')));

addText('wschód słońca: 06:42 CET', 355, 128, NAVY, 'transform:translateX(-50%)');
addText('zachód słońca: 16:53 CET', 355, 141, NAVY, 'transform:translateX(-50%)');
addText('21°28\'30"E, 53°53\'34"N', 551, 128, NAVY, 'transform:translateX(-50%)');
addText('(x=257,  y=358)', 551, 141, NAVY, 'transform:translateX(-50%)');
addText('wysokość (min, środek, max)', 738, 128, NAVY, 'transform:translateX(-50%)');
addText('128 - 151 - 178 m', 738, 141, NAVY, 'transform:translateX(-50%)');
addText('pią, 20.02', 462, 157, '#000', 'transform:translateX(-50%)');
addText('sob, 21.02', 631, 157, '#000', 'transform:translateX(-50%)');
addText('CET', 319, 171, '#000', 'transform:translateX(-50%)');
addText('CET', 782, 171, '#000', 'transform:translateX(-50%)');

addVert('temperatura', 288, 216); addVert('(°C)', 302, 216);
addVert('(°C)', 798, 216); addVert('temperatura', 811, 216);
addVert('opad', 288, 305); addVert('(mm/h, kg/m²/h)', 302, 312);
addVert('(%)', 798, 297); addVert('wilgotność wzgl.', 811, 312);
addVert('ciśnienie', 288, 396); addVert('(hPa)', 302, 396);
addVert('(mm Hg)', 798, 396); addVert('ciśnienie', 811, 396);
addVert('wiatr', 288, 482); addVert('(m/s)', 302, 482);
addVert('(km/h)', 798, 482); addVert('wiatr', 811, 482);
addVert('pion. rozciągł. chm.', 290, 590); addVert('(km)', 303, 593);
addVert('e', 290, 655);
addVert('(km)', 798, 595); addVert('widzialność', 811, 595);

addText('W', 285, 536, NAVY, 'font-size:14px');
addText('N', 297, 527, NAVY, 'font-size:14px');
addText('S', 296, 546, NAVY, 'font-size:14px');
addText('E', 302, 536, NAVY, 'font-size:14px;transform:rotate(90deg)');
addText('W', 788, 536, NAVY, 'font-size:14px');
addText('N', 803, 527, NAVY, 'font-size:14px');
addText('S', 802, 546, NAVY, 'font-size:14px');
addText('E', 810, 536, NAVY, 'font-size:14px;transform:rotate(90deg)');

// ── Leader lines from the legend texts to the left panels ──
const leaders = [
    ['#000', '68,16 133,16 156,47'], ['#a52a2a', '102,44 119,44 157,100'], ['#f00', '92,77 117,77'], ['#f00', '130,76 165,107'],
    ['#0000e6', '70,99 135,99'], ['#6a5acd', '94,120 120,120 138,112'], ['#f00', '103,137 135,137 146,147'],
    [HUMIDITY, '107,151 111,151'], [HUMIDITY, '129,150 145,164'], ['#000', '104,166 113,166'], ['#000', '128,165 138,172'],
    ['#00a000', '71,179 140,179'], ['#00a000', '80,190 140,190'], ['#1040d0', '75,202 112,202'], ['#1040d0', '128,202 160,170'], ['#1040d0', '81,212 138,212 160,190'],
    ['#f00', '97,224 140,224 147,220'], ['#000', '52,264 132,264 135,262'],
    ['#f00', '112,334 118,334'], ['#f00', '130,332 138,316'], ['#f00', '105,348 130,348 145,340'],
    [NAVY, '92,367 135,367'], [NAVY, '86,410 135,410'], ['#a52a2a', '100,431 130,431 186,449'],
    ['#000', '57,468 140,468 192,456'], ['#555', '55,481 143,481'], ['#999', '56,491 130,491 140,503'], ['#ddd8d0', '55,500 130,500 139,508'],
    ['#87d2ff', '56,510 136,510'], ['#87d2ff', '56,512 136,512'], [ORANGE, '67,527 129,527 172,465'],
    ['#87d2ff', '54,556 185,556'], ['#87d2ff', '54,558 185,558'], ['#999', '50,572 193,572'], ['#000', '42,582 122,582'], ['#000', '74,594 150,594'],
    ['#ffb400', '27,605 217,605 218,590'], ['#000', '139,624 147,624 157,608'],
];
const SVG_NS = 'http://www.w3.org/2000/svg';
const svg = document.createElementNS(SVG_NS, 'svg');
svg.setAttribute('id', 'leaders');
svg.setAttribute('width', 280);
svg.setAttribute('height', 660);
leaders.forEach(([color, points]) => {
    const p = document.createElementNS(SVG_NS, 'polyline');
    p.setAttribute('points', points);
    p.setAttribute('fill', 'none');
    p.setAttribute('stroke', color);
    p.setAttribute('stroke-width', 1);
    svg.appendChild(p);
});
page.appendChild(svg);
</script>
</body>
</html>
